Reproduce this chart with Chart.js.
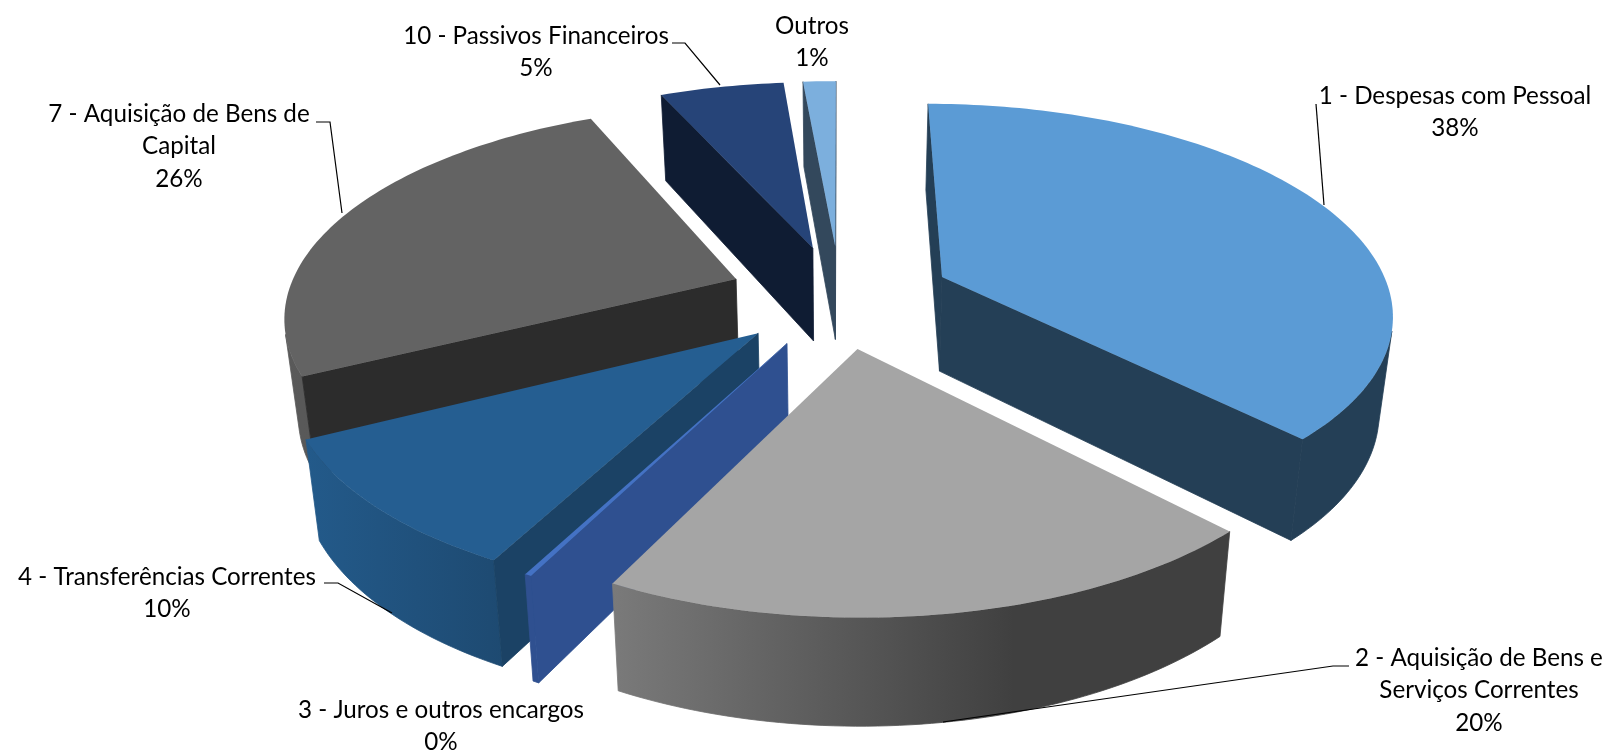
<!DOCTYPE html>
<html>
<head>
<meta charset="utf-8">
<style>
  html, body { margin: 0; padding: 0; background: #fff; }
  canvas { display: block; }
</style>
<script src="https://cdn.jsdelivr.net/npm/chart.js@4/dist/chart.umd.js"></script>
</head>
<body>
<canvas id="pie" width="1608" height="750"></canvas>
<script>
const categories = ['1 - Despesas com Pessoal', '2 - Aquisição de Bens e Serviços Correntes', '3 - Juros e outros encargos', '4 - Transferências Correntes', '7 - Aquisição de Bens de Capital', '10 - Passivos Financeiros', 'Outros'];
const values = [37.7, 19.7, 0.2, 9.9, 25.7, 5.3, 1.4];

const topColors = ['#5B9BD5', '#A5A5A5', '#4472C4', '#255E91', '#636363', '#264478', '#7CAFDD'];
const sideColors = ['#243F56', '#444444', '#2F5090', '#1B4265', '#2C2C2C', '#0F1C33', '#33485C'];
const rimColors = [['#243F56', '#243F56'], ['#7A7A7A', '#404040'], ['#2F5090', '#2F5090'], ['#235A8A', '#1B4265'], ['#5A5A5A', '#4A4A4A'], ['#0F1C33', '#0F1C33'], ['#33485C', '#33485C']];

// label lines, leader lines: one entry per slice, same order as categories
const labelLines = [
    ['1 - Despesas com Pessoal'],
    ['2 - Aquisição de Bens e', 'Serviços Correntes'],
    ['3 - Juros e outros encargos'],
    ['4 - Transferências Correntes'],
    ['7 - Aquisição de Bens de', 'Capital'],
    ['10 - Passivos Financeiros'],
    ['Outros']
];
const labelAnchors = [[1455, 96], [1479, 658], [441, 710], [167, 577], [179, 114], [536, 36], [812, 26]];
const leaders = [
    [[1316, 104], [1324, 205]],
    [[1349, 666], [1333, 666], [943, 722]],
    [],
    [[324, 583], [338, 583], [392, 613]],
    [[316, 122], [330, 122], [342, 213]],
    [[672, 43], [685, 43], [720, 85]],
    []
];

// 3d view
const view = { cx: 840, cy: 296, radius: 449, tilt: 0.46, depth: 95, camera: 2800, taper: 0.975 };

function project(px, py, low) {
    const s = view.camera / (view.camera - py);
    const t = low ? view.taper : 1;
    return [view.cx + px * s * t, view.cy + py * view.tilt * s + (low ? view.depth * Math.pow(s, 0.6) : 0)];
}

function tracePoly(ctx, pts) {
    ctx.beginPath();
    pts.forEach((p, i) => i ? ctx.lineTo(p[0], p[1]) : ctx.moveTo(p[0], p[1]));
    ctx.closePath();
}

function area(pts) {
    let a = 0;
    pts.forEach((p, i) => {
        const q = pts[(i + 1) % pts.length];
        a += p[0] * q[1] - q[0] * p[1];
    });
    return a / 2;
}

function fillPoly(ctx, pts, fill, seam) {
    tracePoly(ctx, pts);
    ctx.fillStyle = fill;
    ctx.fill();
    if (seam) {
        ctx.strokeStyle = fill;
        ctx.lineWidth = 0.8;
        ctx.stroke();
    }
}

function drawSlice(ctx, arc, i) {
    const { startAngle, endAngle, outerRadius } = arc.getProps(['startAngle', 'endAngle', 'outerRadius']);
    const scale = view.radius / outerRadius;
    const mid = (startAngle + endAngle) / 2;
    const ox = Math.cos(mid) * arc.options.offset * scale;
    const oy = Math.sin(mid) * arc.options.offset * scale;

    // outline of the slice on the pie plane: apex then along the rim
    const plane = [[ox, oy]];
    const steps = Math.max(2, Math.ceil((endAngle - startAngle) / 0.02));
    for (let k = 0; k <= steps; k++) {
        const a = startAngle + (endAngle - startAngle) * k / steps;
        plane.push([ox + Math.cos(a) * view.radius, oy + Math.sin(a) * view.radius]);
    }
    const top = plane.map(p => project(p[0], p[1], false));
    const low = plane.map(p => project(p[0], p[1], true));

    const xs = top.map(p => p[0]);
    const grad = ctx.createLinearGradient(Math.min(...xs), 0, Math.max(...xs), 0);
    grad.addColorStop(0, rimColors[i][0]);
    grad.addColorStop(0.65, rimColors[i][1]);
    grad.addColorStop(1, rimColors[i][1]);

    // rim: one polygon per run of edges that face the camera
    let run = [];
    const flush = () => {
        if (run.length) {
            const upper = run.map(k => top[k]);
            const lower = run.map(k => low[k]).reverse();
            fillPoly(ctx, upper.concat(lower), grad, true);
        }
        run = [];
    };
    for (let k = 1; k < plane.length - 1; k++) {
        if (area([top[k], top[k + 1], low[k + 1], low[k]]) < 0) {
            if (!run.length) run.push(k);
            run.push(k + 1);
        } else {
            flush();
        }
    }
    flush();

    // the two cut faces
    const last = plane.length - 1;
    [[0, 1], [last, 0]].forEach(([a, b]) => {
        const quad = [top[a], top[b], low[b], low[a]];
        if (area(quad) < 0) fillPoly(ctx, quad, sideColors[i], true);
    });

    fillPoly(ctx, top, arc.options.backgroundColor, false);
}

const pie3d = {
    id: 'pie3d',
    beforeDatasetDraw(chart, args) {
        const ctx = chart.ctx;
        const arcs = args.meta.data;
        const order = arcs.map((a, i) => i).sort((a, b) => {
            const m = e => { const p = e.getProps(['startAngle', 'endAngle']); return Math.sin((p.startAngle + p.endAngle) / 2); };
            return m(arcs[a]) - m(arcs[b]);
        });
        ctx.save();
        order.forEach(i => drawSlice(ctx, arcs[i], i));
        ctx.restore();
        return false;
    },
    afterDatasetsDraw(chart) {
        const ctx = chart.ctx;
        const total = values.reduce((a, b) => a + b, 0);
        ctx.save();
        ctx.strokeStyle = '#000';
        ctx.lineWidth = 1.2;
        leaders.forEach(line => {
            if (!line.length) return;
            ctx.beginPath();
            line.forEach((p, i) => i ? ctx.lineTo(p[0], p[1]) : ctx.moveTo(p[0], p[1]));
            ctx.stroke();
        });
        ctx.fillStyle = '#000';
        ctx.font = '24.2px Lato';
        ctx.textAlign = 'center';
        ctx.textBaseline = 'middle';
        labelLines.forEach((lines, i) => {
            const text = lines.concat(Math.round(values[i] / total * 100) + '%');
            text.forEach((t, k) => ctx.fillText(t, labelAnchors[i][0], labelAnchors[i][1] + k * 32.5));
        });
        ctx.restore();
    }
};

new Chart(document.getElementById('pie').getContext('2d'), {
    type: 'pie',
    data: {
        labels: categories,
        datasets: [{
            data: values,
            backgroundColor: topColors,
            borderWidth: 0,
            offset: 83
        }]
    },
    options: {
        responsive: false,
        animation: false,
        rotation: 0,
        plugins: { legend: { display: false }, tooltip: { enabled: false } }
    },
    plugins: [pie3d]
});
</script>
</body>
</html>
